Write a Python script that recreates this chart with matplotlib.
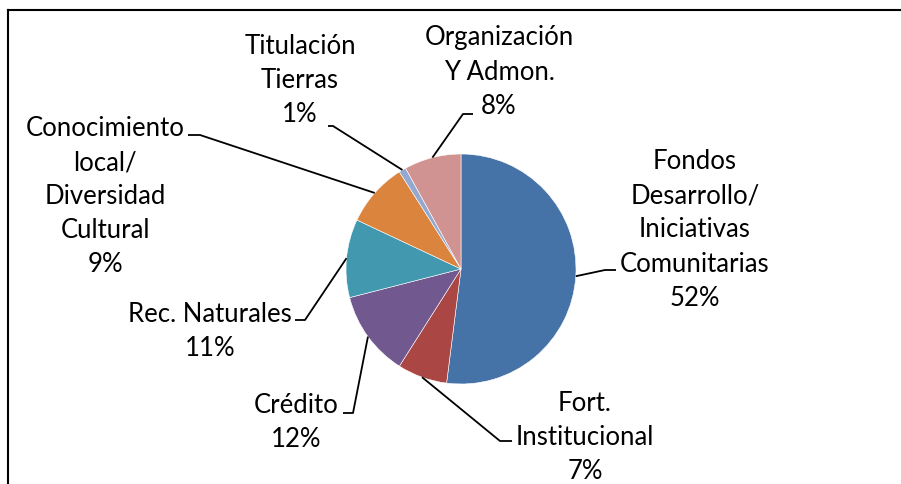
import numpy as np
import matplotlib
matplotlib.use('Agg')
import matplotlib.pyplot as plt
from matplotlib.lines import Line2D

plt.rcParams['font.family'] = ['Lato', 'DejaVu Sans']

# datos
categorias = ['Fondos\nDesarrollo/\nIniciativas\nComunitarias',
              'Fort.\nInstitucional',
              'Crédito',
              'Rec. Naturales',
              'Conocimiento\nlocal/\nDiversidad\nCultural',
              'Titulación\nTierras',
              'Organización\nY Admon.']
porcentajes = [52, 7, 12, 11, 9, 1, 8]
colores = ['#4572A7', '#AA4643', '#71588F', '#4198AF',
           '#DB843D', '#93A9CF', '#D19392']

W, H = 901, 485
fig = plt.figure(figsize=(W / 100, H / 100), dpi=100)
ax = fig.add_axes([0, 0, 1, 1])


def py(y):
    # pixel desde arriba -> coordenada de datos
    return H - y


cx, cy, r = 461, 270, 115
wedges, _ = ax.pie(porcentajes, colors=colores, startangle=90,
                   counterclock=False, radius=r, center=(cx, py(cy)),
                   wedgeprops=dict(edgecolor='white', linewidth=0.4))
ax.set_xlim(0, W)
ax.set_ylim(0, H)
ax.axis('off')

# posicion de etiquetas: (x texto, y centro, codo, fin de linea)
etiquetas = [
    ((695, 230), (605, 271), (616, 271)),
    ((585, 438), (500, 442), (512, 442)),
    ((296, 423), (353, 414), (343, 414)),
    ((210, 331), (305, 321), (295, 321)),
    ((105, 197), (200, 136), (188, 136)),
    ((300, 81), (333, 127), (328, 127)),
    ((499, 72), (463, 115), (473, 115)),
]

for w, nombre, p, (txt, codo, fin) in zip(wedges, categorias, porcentajes,
                                          etiquetas):
    ang = np.deg2rad((w.theta1 + w.theta2) / 2)
    x0 = cx + r * np.cos(ang)
    y0 = py(cy) + r * np.sin(ang)
    ax.plot([x0, codo[0], fin[0]], [y0, py(codo[1]), py(fin[1])],
            color='black', lw=1.3, solid_capstyle='butt')
    ax.text(txt[0], py(txt[1]), '%s\n%d%%' % (nombre, p), ha='center',
            va='center', fontsize=18.5, linespacing=1.45, color='black')

# marco
fig.add_artist(Line2D([8 / W, 1], [py(11) / H, py(11) / H],
                      color='black', lw=1.5))
fig.add_artist(Line2D([8 / W, 8 / W], [0, py(11) / H],
                      color='black', lw=1.5))

fig.savefig('out.png', dpi=100)
